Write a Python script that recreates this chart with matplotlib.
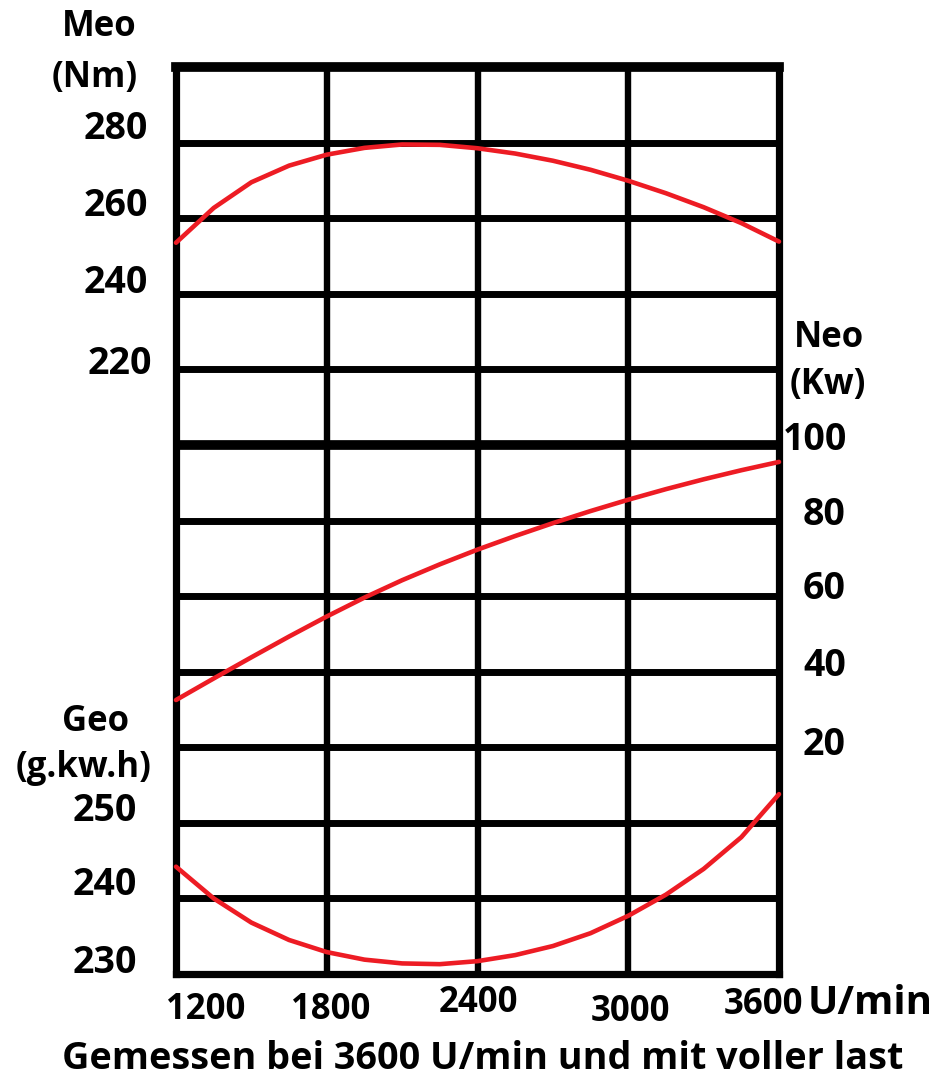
import numpy as np
import matplotlib
matplotlib.use('Agg')
import matplotlib.pyplot as plt
from matplotlib.transforms import ScaledTranslation

# Drehzahl (U/min)
rpm = [1200, 1350, 1500, 1650, 1800, 1950, 2100, 2250, 2400,
       2550, 2700, 2850, 3000, 3150, 3300, 3450, 3600]
# Drehmoment Meo (Nm)
meo = [253.5, 262.7, 269.5, 273.9, 276.8, 278.6, 279.5, 279.4, 278.5,
       277.1, 275.2, 272.8, 269.9, 266.6, 262.9, 258.7, 253.8]
# Leistung Neo (kW)
neo = [32.5, 38.2, 43.8, 49.3, 54.6, 59.6, 64.2, 68.4, 72.3,
       75.9, 79.3, 82.5, 85.5, 88.3, 90.9, 93.3, 95.5]
# spez. Verbrauch Geo (g/kWh)
geo = [244.2, 240.0, 236.8, 234.5, 232.9, 231.9, 231.4, 231.3, 231.7,
       232.5, 233.7, 235.4, 237.7, 240.5, 243.9, 248.1, 253.8]

x_ticks = [1200, 1800, 2400, 3000, 3600]
meo_ticks = [220, 240, 260, 280]
neo_ticks = [20, 40, 60, 80, 100]
geo_ticks = [230, 240, 250]

plt.rcParams['font.family'] = ['Open Sans', 'DejaVu Sans']
plt.rcParams['font.weight'] = 'bold'
plt.rcParams['font.size'] = 27

W, H = 940, 1084
fig = plt.figure(figsize=(W / 100, H / 100), dpi=100)
ax = fig.add_axes([176 / W, 1 - 974 / H, 603 / W, 907 / H])
ax.set_xlim(1200, 3600)
ax.set_ylim(60, 300)

ax_neo = ax.twinx()
ax_neo.set_ylim(-40, 200)
ax_geo = ax.twinx()
ax_geo.set_ylim(230, 350)
ax_geo.yaxis.tick_left()

# Raster
for v in np.arange(80, 300, 20):
    lw = 7 if v == 200 else 5
    ax.hlines(v, 1200, 3600, colors='black', linewidth=lw, zorder=1)
ax.vlines([1800, 2400, 3000], 60, 300, colors='black', linewidth=4.6, zorder=1)
for name, sp in ax.spines.items():
    sp.set_linewidth(7 if name == 'top' else 5.2)
    sp.set_capstyle('projecting')
for a in (ax_neo, ax_geo):
    for sp in a.spines.values():
        sp.set_visible(False)

red = '#ed1c24'
kw = dict(color=red, lw=3.3, solid_capstyle='round', solid_joinstyle='round',
          zorder=4, clip_on=False)
ax.plot(rpm, meo, **kw)
ax_neo.plot(rpm, neo, **kw)
ax_geo.plot(rpm, geo, **kw)

ax.set_xticks(x_ticks)
ax.set_yticks(meo_ticks)
ax_neo.set_yticks(neo_ticks)
ax_geo.set_yticks(geo_ticks)
for a in (ax, ax_neo, ax_geo):
    a.tick_params(axis='both', length=0, pad=0)
ax.tick_params(axis='x', labelsize=25)


def shift(lbl, dx, dy):
    lbl.set_transform(lbl.get_transform() +
                      ScaledTranslation(dx / 100, dy / 100, fig.dpi_scale_trans))


for lbl, (dx, dy) in zip(ax.get_yticklabels(), [(-24, 10), (-28, 15), (-28, 17), (-28, 18)]):
    shift(lbl, dx, dy)
for lbl, (dx, dy) in zip(ax_neo.get_yticklabels(), [(24, 7), (24, 10), (24, 12), (24, 10), (4, 9)]):
    shift(lbl, dx, dy)
for lbl, (dx, dy) in zip(ax_geo.get_yticklabels(), [(-39, 16), (-39, 18), (-39, 16)]):
    shift(lbl, dx, dy)
for lbl, (dx, dy) in zip(ax.get_xticklabels(), [(30, -36), (4, -36), (1, -29), (2, -38), (-16, -31)]):
    lbl.set_verticalalignment('center')
    shift(lbl, dx, dy)


def ftext(x, y, s, size=25, ha='center'):
    fig.text(x / W, 1 - y / H, s, ha=ha, va='center', fontsize=size, fontweight='bold')


ftext(99, 27, 'Meo')
ftext(95, 78, '(Nm)')
ftext(829, 338, 'Neo')
ftext(828, 385, '(Kw)')
ftext(95, 722, 'Geo')
ftext(84, 768, '(g.kw.h)')
ftext(808, 1003, 'U/min', size=29, ha='left')
ftext(483, 1059, 'Gemessen bei 3600 U/min und mit voller last', size=27.2)

fig.savefig('out.png', dpi=100)
